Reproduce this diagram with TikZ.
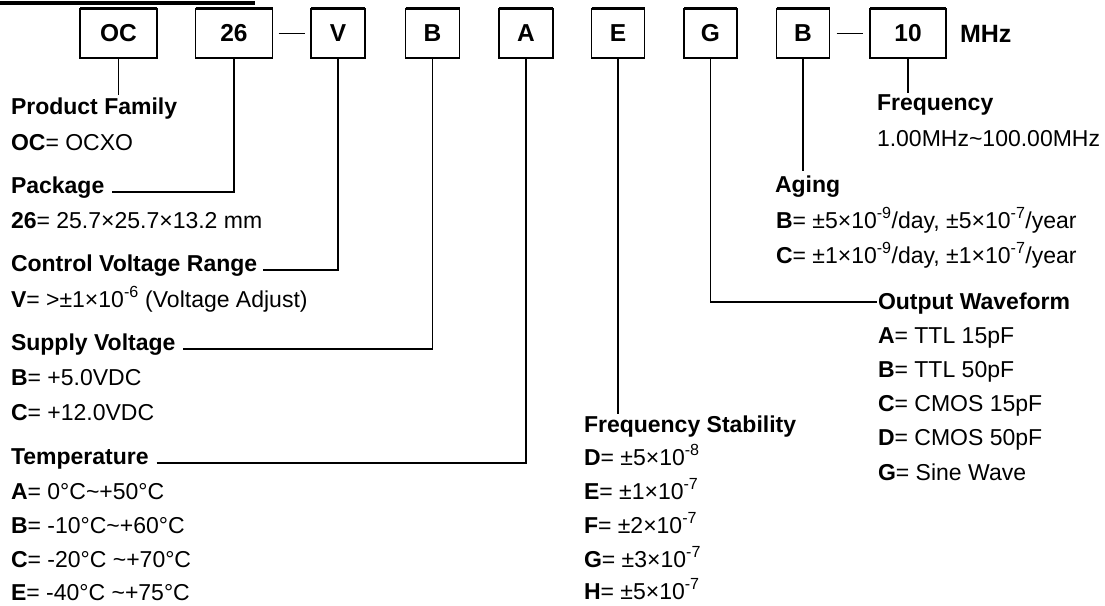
\documentclass[tikz,border=0pt]{standalone}
\usepackage{fontspec}
\setmainfont{Liberation Sans}
\usetikzlibrary{calc}
\begin{document}
\begin{tikzpicture}[x=1pt,y=-1pt,
  every node/.style={inner sep=0pt, outer sep=0pt},
  codebox/.style={draw, line width=1.2pt, minimum height=49.5pt, anchor=center,
    font=\fontsize{24.5}{24.5}\selectfont\bfseries},
  topedge/.style={line width=3pt},
  botedge/.style={line width=1.8pt},
  lead/.style={line width=1.2pt},
  head/.style={anchor=base west, font=\fontsize{23}{24}\selectfont\bfseries},
  txt/.style={anchor=base west, font=\fontsize{23}{24}\selectfont},
]
\useasboundingbox (0,0) rectangle (1105,605);
% cropped title underline
\fill (0,1) rectangle (255,5);

% code boxes
\node[codebox, minimum width=77pt] (oc) at (118.5,33.5) {OC};
\node[codebox, minimum width=77pt] (pk) at (234,33.5) {26};
\node[codebox, minimum width=54pt] (cv) at (338,33.5) {V};
\node[codebox, minimum width=54pt] (sv) at (432.5,33.5) {B};
\node[codebox, minimum width=54pt] (tp) at (526,33.5) {A};
\node[codebox, minimum width=53pt] (fs) at (618,33.5) {E};
\node[codebox, minimum width=53pt] (ow) at (710.5,33.5) {G};
\node[codebox, minimum width=53pt] (ag) at (803,33.5) {B};
\node[codebox, minimum width=76pt] (fr) at (908,33.5) {10};
\node[anchor=west, font=\fontsize{25}{25}\selectfont\bfseries] (mhz) at (960,34) {MHz};
\foreach \n in {oc,pk,cv,sv,tp,fs,ow,ag,fr}{
  \draw[topedge] (\n.north west) -- (\n.north east);
  \draw[botedge] (\n.south west) -- (\n.south east);
}
\draw[lead] ([xshift=6pt]pk.east) -- ([xshift=-6pt]cv.west);
\draw[lead] ([xshift=7pt]ag.east) -- ([xshift=-7pt]fr.west);

% left column
\node[head] (pfh) at (11,114) {Product Family};
\node[txt]  (pf1) at (11,150) {\textbf{OC}= OCXO};
\node[head] (pkh) at (11,193) {Package};
\node[txt]  (pk1) at (11,228) {\textbf{26}= 25.7×25.7×13.2 mm};
\node[head] (cvh) at (11,271) {Control Voltage Range};
\node[txt]  (cv1) at (11,307) {\textbf{V}= >±1×10\textsuperscript{-6} (Voltage Adjust)};
\node[head] (svh) at (11,350) {Supply Voltage};
\node[txt]  (sv1) at (11,385) {\textbf{B}= +5.0VDC};
\node[txt]  (sv2) at (11,420) {\textbf{C}= +12.0VDC};
\node[head] (tph) at (11,464) {Temperature};
\node[txt]  (tp1) at (11,499) {\textbf{A}= 0°C\textasciitilde+50°C};
\node[txt]  (tp2) at (11,533) {\textbf{B}= -10°C\textasciitilde+60°C};
\node[txt]  (tp3) at (11,567) {\textbf{C}= -20°C \textasciitilde+70°C};
\node[txt]  (tp4) at (11,600) {\textbf{E}= -40°C \textasciitilde+75°C};

% frequency stability
\node[head] (fsh) at (584,432) {Frequency Stability};
\node[txt]  (fs1) at (584,465) {\textbf{D}= ±5×10\textsuperscript{-8}};
\node[txt]  (fs2) at (584,499) {\textbf{E}= ±1×10\textsuperscript{-7}};
\node[txt]  (fs3) at (584,533) {\textbf{F}= ±2×10\textsuperscript{-7}};
\node[txt]  (fs4) at (584,567) {\textbf{G}= ±3×10\textsuperscript{-7}};
\node[txt]  (fs5) at (584,599) {\textbf{H}= ±5×10\textsuperscript{-7}};

% output waveform
\node[head] (owh) at (878,309) {Output Waveform};
\node[txt]  (ow1) at (878,343) {\textbf{A}= TTL 15pF};
\node[txt]  (ow2) at (878,377) {\textbf{B}= TTL 50pF};
\node[txt]  (ow3) at (878,411) {\textbf{C}= CMOS 15pF};
\node[txt]  (ow4) at (878,445) {\textbf{D}= CMOS 50pF};
\node[txt]  (ow5) at (878,480) {\textbf{G}= Sine Wave};

% aging
\node[head] (agh) at (775,192) {Aging};
\node[txt]  (ag1) at (776,228) {\textbf{B}= ±5×10\textsuperscript{-9}/day, ±5×10\textsuperscript{-7}/year};
\node[txt]  (ag2) at (776,263) {\textbf{C}= ±1×10\textsuperscript{-9}/day, ±1×10\textsuperscript{-7}/year};

% frequency
\node[head] (frh) at (877,110) {Frequency};
\node[txt]  (fr1) at (877,146) {1.00MHz\textasciitilde100.00MHz};

% connectors
\draw[lead] (oc.south) -- ($(oc.south |- pfh.north)+(0,-2)$);
\draw[lead] ($(pkh.base east)+(8,-1)$) -| (pk.south);
\draw[lead] ($(cvh.base east)+(6,-1)$) -| (cv.south);
\draw[lead] ($(svh.base east)+(8,-1)$) -| (sv.south);
\draw[lead] ($(tph.base east)+(8,-1)$) -| (tp.south);
\draw[lead] (fs.south) -- ($(fs.south |- fsh.north)+(0,-1)$);
\draw[lead] (ow.south) |- ($(owh.base west)+(-1,-7)$);
\draw[lead] (ag.south) -- ($(ag.south |- agh.north)+(0,-4)$);
\draw[lead] (fr.south) -- ($(fr.south |- frh.north)+(0,-1)$);
\end{tikzpicture}
\end{document}
